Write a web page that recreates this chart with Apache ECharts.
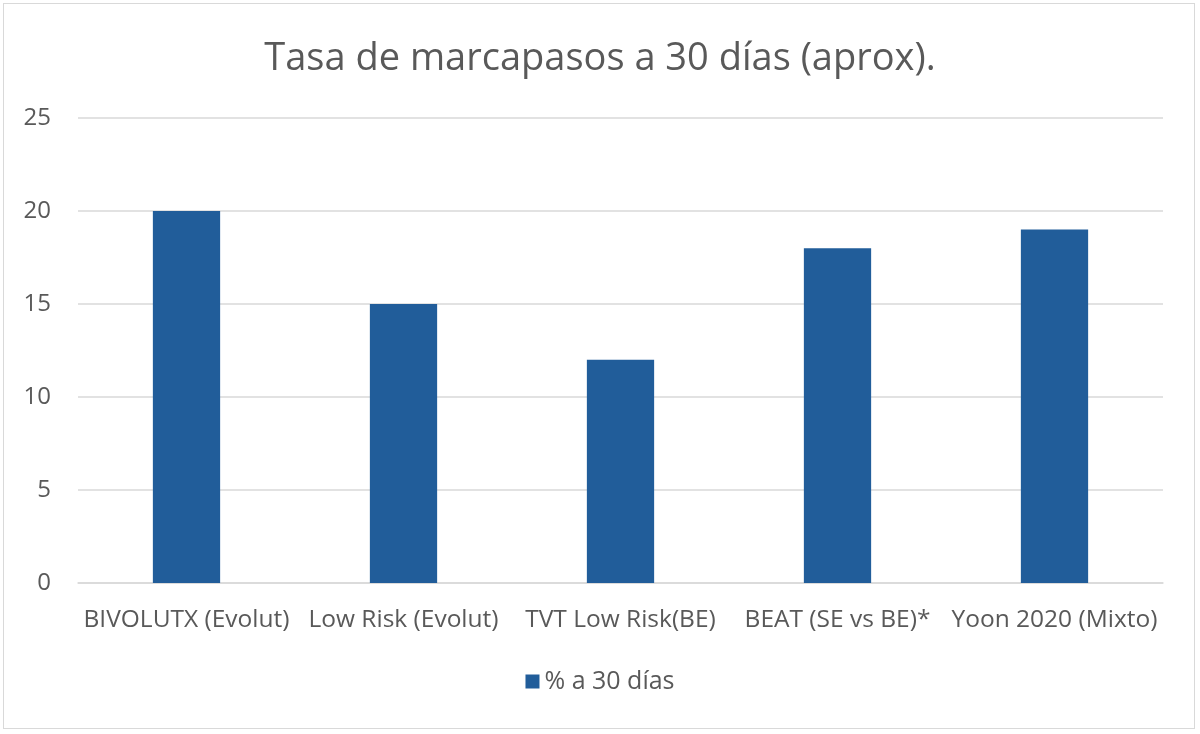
<!DOCTYPE html>
<html>
<head>
<meta charset="utf-8">
<script src="https://cdn.jsdelivr.net/npm/echarts@6/dist/echarts.min.js"></script>
<style>
html,body{margin:0;padding:0;background:#fff;}
#wrap{position:absolute;left:3px;top:3px;width:1192px;height:726px;border:1.5px solid #d9d9d9;box-sizing:border-box;}
#chart{width:1200px;height:734px;position:absolute;left:0;top:0;}
</style>
</head>
<body>
<div id="wrap"></div>
<div id="chart"></div>
<script>
const categories = ['BIVOLUTX (Evolut)', 'Low Risk (Evolut)', 'TVT Low Risk(BE)', 'BEAT (SE vs BE)*', 'Yoon 2020 (Mixto)'];
const values = [20, 15, 12, 18, 19];
const seriesName = '% a 30 días';
const titleText = 'Tasa de marcapasos a 30 días (aprox).';

const chart = echarts.init(document.getElementById('chart'), null, {renderer: 'canvas'});
const font = '"Open Sans", "Noto Sans", sans-serif';
chart.setOption({
  animation: false,
  backgroundColor: 'transparent',
  title: {
    text: titleText,
    left: 'center',
    top: 35,
    textStyle: {fontFamily: font, fontSize: 38, fontWeight: 'normal', color: '#595959'}
  },
  grid: {left: 78, right: 37, top: 118, bottom: 151, containLabel: false},
  legend: {
    data: [seriesName],
    bottom: 35,
    left: 'center',
    icon: 'rect',
    itemWidth: 14,
    itemHeight: 14,
    itemGap: 4,
    textStyle: {fontFamily: font, fontSize: 25, color: '#595959'}
  },
  xAxis: {
    type: 'category',
    data: categories,
    axisLine: {lineStyle: {color: '#d9d9d9', width: 1.5}},
    axisTick: {show: false},
    axisLabel: {fontFamily: font, fontSize: 24.5, color: '#595959', margin: 25, interval: 0}
  },
  yAxis: {
    type: 'value',
    min: 0, max: 25, interval: 5,
    axisLine: {show: false},
    axisTick: {show: false},
    splitLine: {lineStyle: {color: '#d9d9d9', width: 1.5}},
    axisLabel: {fontFamily: font, fontSize: 24, color: '#595959', margin: 27}
  },
  series: [{
    name: seriesName,
    type: 'bar',
    data: values,
    barWidth: '31%',
    itemStyle: {color: '#215d9a'}
  }]
});
</script>
</body>
</html>
